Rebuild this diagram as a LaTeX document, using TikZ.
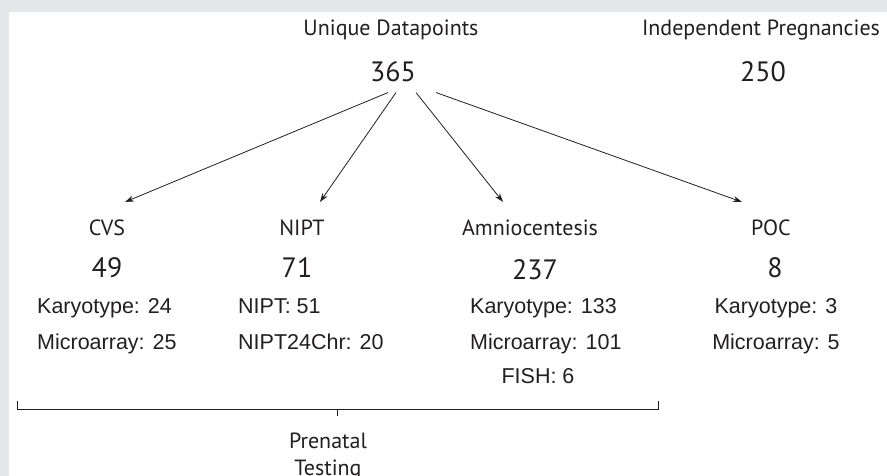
\documentclass[tikz,border=0pt]{standalone}
\usepackage{fontspec}
\setmainfont{Liberation Sans}
\newfontfamily\headfont{PT Sans}
\usetikzlibrary{arrows.meta}
\definecolor{framegray}{HTML}{E6E7E8}
\definecolor{inkgray}{HTML}{231F20}

\begin{document}
\begin{tikzpicture}[x=1pt,y=-1pt,
  head/.style={font=\headfont\fontsize{22}{24}\selectfont, text=inkgray, anchor=base, inner sep=0pt},
  count/.style={font=\headfont\fontsize{28}{30}\selectfont, text=inkgray, anchor=base, inner sep=0pt},
  item/.style={font=\fontsize{21.5}{24}\selectfont, text=inkgray, anchor=base west, inner sep=0pt},
  arr/.style={-{Stealth[length=9pt,width=6pt]}, line width=0.8pt, draw=inkgray}]

% frame
\fill[framegray] (0,0) rectangle (887,476);
\fill[white] (9,12) rectangle (887,476);
\useasboundingbox (0,0) rectangle (887,476);

% totals
\node[head] (unique) at (391,36) {Unique Datapoints};
\node[head] (indep) at (761,36) {Independent Pregnancies};
\node[count] (total) at (393,82) {365};
\node[count] (pregs) at (763,82) {250};

% test types
\node[head] (cvs) at (107,236) {CVS};
\node[head] (nipt) at (302,236) {NIPT};
\node[head] (amnio) at (530,236) {Amniocentesis};
\node[head] (poc) at (771,236) {POC};

\node[count] (cvsnum) at (107,277) {49};
\node[count] (niptnum) at (297,277) {71};
\node[count] (amnionum) at (535,279) {237};
\node[count] (pocnum) at (775,277) {8};

% breakdown
\node[item] (cvskar) at (37,313) {Karyotype: 24};
\node[item] (cvsmic) at (37,349) {Microarray: 25};
\node[item] (niptstd) at (238,313) {NIPT: 51};
\node[item] (nipt24) at (238,349) {NIPT24Chr: 20};
\node[item] (amniokar) at (470,313) {Karyotype: 133};
\node[item] (amniomic) at (470,349) {Microarray: 101};
\node[item, anchor=base] (amniofish) at (538,383) {FISH: 6};
\node[item, anchor=base] (pockar) at (776,313) {Karyotype: 3};
\node[item, anchor=base] (pocmic) at (776,349) {Microarray: 5};

% arrow tips
\coordinate (cvstip) at (125,202);
\coordinate (nipttip) at (320,202);
\coordinate (amniotip) at (503,202);
\coordinate (poctip) at (742,202);

\draw[arr] ([xshift=-5pt,yshift=-10pt]total.south) -- (cvstip);
\draw[arr] ([xshift=3pt,yshift=-10pt]total.south) -- (nipttip);
\draw[arr] ([xshift=23pt,yshift=-10pt]total.south) -- (amniotip);
\draw[arr] ([xshift=43pt,yshift=-10pt]total.south) -- (poctip);

% bracket
\draw[line width=0.8pt, inkgray] (17,401) -- (17,409) -- (658,409) -- (658,401);
\draw[line width=0.8pt, inkgray] (337,409) -- (337,416);
\node[head] (prenatal) at (328,448) {Prenatal};
\node[head] (testing) at (328,475) {Testing};
\end{tikzpicture}
\end{document}
